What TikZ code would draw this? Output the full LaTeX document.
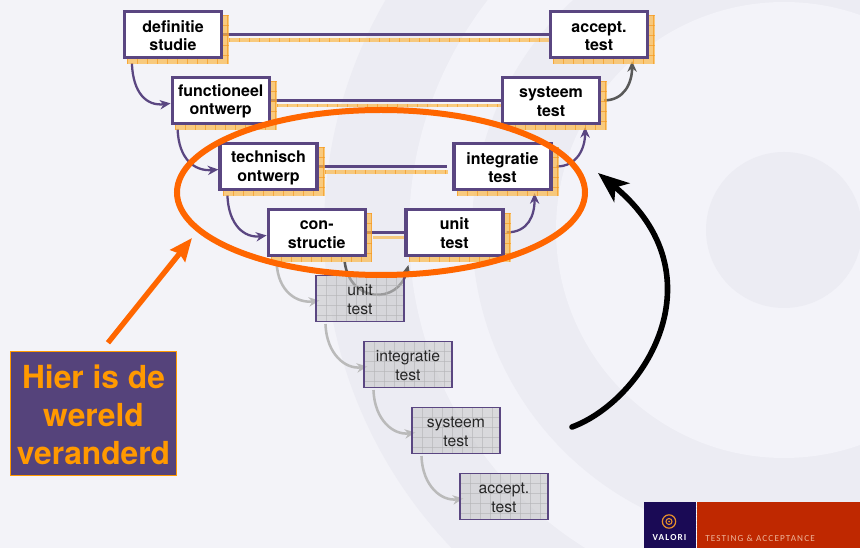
\documentclass[tikz,border=0pt]{standalone}
\usepackage{fontspec}
\setmainfont{TeX Gyre Heros}
\newfontfamily\logofont[LetterSpace=12]{Carlito}
\usetikzlibrary{calc,arrows.meta,shapes.geometric}
\definecolor{bgbase}{HTML}{F3F3F8}
\definecolor{bgdark}{HTML}{ECECF3}
\definecolor{bglight}{HTML}{F3F3F9}
\definecolor{vpurple}{HTML}{5A4681}
\definecolor{shfill}{HTML}{FBB94B}
\definecolor{shline}{HTML}{F69A20}
\definecolor{greyfill}{HTML}{C8C8CA}
\definecolor{greyline}{HTML}{B4B4B6}
\definecolor{vorange}{HTML}{FF6600}
\definecolor{labelor}{HTML}{FF9900}
\definecolor{vnavy}{HTML}{1A0A55}
\definecolor{vred}{HTML}{BF2800}
\definecolor{logoor}{HTML}{E8902A}
\definecolor{logotxt}{HTML}{EDB59A}
\newcommand{\tstrut}{\rule{0pt}{10.4pt}}
\newcommand{\cstrut}{\rule{0pt}{20pt}}
\pgfdeclarelayer{lines}
\pgfdeclarelayer{shad}
\pgfdeclarelayer{top}
\pgfsetlayers{lines,shad,main,top}
\tikzset{
 x=0.75pt,y=-0.75pt,
 mainbox/.style={draw=vpurple,fill=white,line width=2.4pt,minimum width=72.75pt,minimum height=34.5pt,inner sep=0pt,align=center,font=\fontsize{12}{14}\selectfont\bfseries},
 greybox/.style={draw=vpurple,line width=0.8pt,minimum width=66pt,minimum height=34.5pt,inner sep=0pt,align=center,text=black!85,font=\fontsize{11.8}{14}\selectfont},
 hline/.style={draw=vpurple,line width=2.2pt},
 band/.style={draw=shfill,line width=2.4pt},
 bandticks/.style={draw=shline,line width=2.4pt,dash pattern=on 0.5pt off 7pt},
 curve/.style={draw=vpurple,line width=1.7pt,-{Stealth[length=8pt,width=7pt]}},
 dcurve/.style={draw=black!65,line width=1.9pt,-{Stealth[length=8pt,width=7pt]}},
 gcurve/.style={draw=black!27,line width=1.9pt,-{Stealth[length=8pt,width=7pt]}},
}
% x1 y1 x2 y2 fill line
\newcommand{\gridrect}[6]{%
 \begin{scope}
 \clip (#1,#2) rectangle (#3,#4);
 \fill[#5] (#1,#2) rectangle (#3,#4);
 \foreach \gx in {0,10,...,110} {\draw[#6,line width=0.35pt] (#1+\gx,#2) -- (#1+\gx,#4);}
 \foreach \gy in {0,10,...,50} {\draw[#6,line width=0.35pt] (#1,#2+\gy) -- (#3,#2+\gy);}
 \end{scope}}
\begin{document}
\begin{tikzpicture}
\useasboundingbox (0,0) rectangle (860,548);
% main boxes
\node[mainbox] (ds) at (173,34.5) {\tstrut definitie\\studie};
\node[mainbox] (fo) at (220.7,100.4) {\tstrut functioneel\\ontwerp};
\node[mainbox] (to) at (268.5,166.5) {\tstrut technisch\\ontwerp};
\node[mainbox] (cs) at (316.7,232.4) {\tstrut con-\\structie};
\node[mainbox] (ut) at (454.5,232.4) {\tstrut unit\\test};
\node[mainbox] (it) at (502.5,166.5) {\tstrut integratie\\test};
\node[mainbox] (st) at (551,100.4) {\tstrut systeem\\test};
\node[mainbox] (at) at (599,34.5) {\tstrut accept.\\test};
% grey boxes
\node[greybox] (gu) at (360,298.5) {\tstrut unit\\test};
\node[greybox] (gi) at (408,364.5) {\tstrut integratie\\test};
\node[greybox] (gs) at (456,430.5) {\tstrut systeem\\test};
\node[greybox] (ga) at (504,496.5) {\tstrut accept.\\test};
\begin{pgfonlayer}{lines}
% background
\fill[bgbase] (0,0) rectangle (860,548);
\begin{scope}
\clip (0,0) rectangle (860,548);
\fill[bgdark] (784,230) circle (460);
\fill[bglight] (784,230) circle (375);
\fill[bgdark] (784,230) circle (312);
\fill[bglight] (784,230) circle (228);
\fill[bgdark] (784,230) circle (78);
\end{scope}
% horizontal links
\draw[hline] (ds.east) -- (at.west);
\draw[hline] (fo.east) -- (st.west);
\draw[hline] (to.east) -- ($(it.west)+(-5.5,0)$);
\draw[hline] (cs.east) -- (ut.west);
% down curves
\draw[curve] ($(ds.south west)+(9,4)$) .. controls +(1,30) and +(-24,3) .. ($(fo.west)+(0,3)$);
\draw[curve] ($(fo.south west)+(7,4)$) .. controls +(1,30) and +(-24,2) .. ($(to.west)+(0,3)$);
\draw[curve] ($(to.south west)+(9,4)$) .. controls +(1,30) and +(-22,3) .. ($(cs.west)+(0,3)$);
% up curves
\draw[curve] ($(ut.east)+(2,0)$) .. controls +(22,0) and +(0,22) .. ($(it.south east)+(-18,2)$);
\draw[curve] ($(it.east)+(4,0)$) .. controls +(20,0) and +(0,22) .. ($(st.south east)+(-16,2)$);
\draw[dcurve] ($(st.east)+(3,0)$) .. controls +(20,0) and +(0,22) .. ($(at.south east)+(-17,2)$);
% con-structie to unit
\draw[dcurve] ($(cs.south)+(28,5)$) .. controls +(5,41) and +(-10,40) .. ($(ut.south west)+(4,8)$);
% grey curves
\draw[gcurve] ($(cs.south west)+(10,5)$) .. controls +(1,30) and +(-22,3) .. ($(gu.west)+(4,2)$);
\draw[gcurve] ($(gu.south west)+(10,2)$) .. controls +(1,30) and +(-22,3) .. ($(gi.west)+(4,2)$);
\draw[gcurve] ($(gi.south west)+(10,2)$) .. controls +(1,30) and +(-22,3) .. ($(gs.west)+(4,2)$);
\draw[gcurve] ($(gs.south west)+(10,2)$) .. controls +(1,30) and +(-22,3) .. ($(ga.west)+(4,2)$);
\end{pgfonlayer}
\begin{pgfonlayer}{shad}
\begin{scope}[opacity=0.7]
\gridrect{127}{15}{229}{64}{shfill}{shline}
\gridrect{175}{81}{277}{130}{shfill}{shline}
\gridrect{223}{147}{325}{196}{shfill}{shline}
\gridrect{271}{213}{372}{262}{shfill}{shline}
\gridrect{409}{213}{511}{262}{shfill}{shline}
\gridrect{457}{147}{559}{196}{shfill}{shline}
\gridrect{505}{81}{607}{130}{shfill}{shline}
\gridrect{553}{15}{655}{64}{shfill}{shline}
\draw[band] ($(ds.east)+(6,5.5)$) -- ($(at.west)+(0,5.5)$);
\draw[band] ($(fo.east)+(6,5.5)$) -- ($(st.west)+(0,5.5)$);
\draw[band] ($(to.east)+(6,5.5)$) -- ($(it.west)+(-4,5.5)$);
\draw[band] ($(cs.east)+(6,5.5)$) -- ($(ut.west)+(0,5.5)$);
\draw[bandticks] ($(ds.east)+(6,5.5)$) -- ($(at.west)+(0,5.5)$);
\draw[bandticks] ($(fo.east)+(6,5.5)$) -- ($(st.west)+(0,5.5)$);
\draw[bandticks] ($(to.east)+(6,5.5)$) -- ($(it.west)+(-4,5.5)$);
\end{scope}
\begin{scope}[opacity=0.6]
\gridrect{316}{275.5}{404}{321.5}{greyfill}{greyline}
\gridrect{364}{341.5}{452}{387.5}{greyfill}{greyline}
\gridrect{412}{407.5}{500}{453.5}{greyfill}{greyline}
\gridrect{460}{473.5}{548}{519.5}{greyfill}{greyline}
\end{scope}
\end{pgfonlayer}
\begin{pgfonlayer}{top}
% ellipse
\node[draw=vorange,line width=4.5pt,ellipse,minimum width=306pt,minimum height=123.75pt,inner sep=0pt] (el) at (381,192.5) {};
% callout
\node[draw=labelor,fill=vpurple!95!black,line width=0.8pt,minimum width=125pt,minimum height=93pt,inner sep=0pt,align=center,text=labelor,font=\fontsize{23.8}{28.5}\selectfont\bfseries] (call) at (93.5,413.3) {\cstrut Hier is de\\wereld\\veranderd};
\coordinate (calltip) at (192,238);
\draw[vorange,line width=4pt,-{Stealth[length=17pt,width=14pt,inset=2pt]}] ($(call.north)+(14.5,-8)$) -- (calltip);
% black arrow
\coordinate (bstart) at (572,427);
\coordinate (bend) at (598,173);
\draw[black,line width=4.2pt,line cap=round,-{Stealth[length=23pt,width=18pt,inset=6pt]}] (bstart) .. controls (645,400) and (722,275) .. (bend);
% logo
\fill[vnavy] (644,502) rectangle (695.5,548);
\fill[vred] (696.5,502) rectangle (860,548);
\draw[white,line width=0.7pt,dotted] (696,502) -- (696,548);
\node[draw=logoor,line width=0.9pt,circle,minimum size=10pt,inner sep=0pt] (lg) at (669,521.5) {};
\node[draw=logoor,line width=0.8pt,circle,minimum size=4.5pt,inner sep=0pt] (lg2) at (669,521.5) {};
\fill[logoor] (lg.center) circle (1);
\node[text=white,font=\fontsize{6.9}{7}\logofont\bfseries,inner sep=0pt] (lv) at (669.5,538) {VALORI};
\node[text=logotxt,font=\fontsize{6.9}{7}\logofont,inner sep=0pt,anchor=west] (lt) at (705,538) {TESTING \& ACCEPTANCE};
\end{pgfonlayer}
\end{tikzpicture}
\end{document}
